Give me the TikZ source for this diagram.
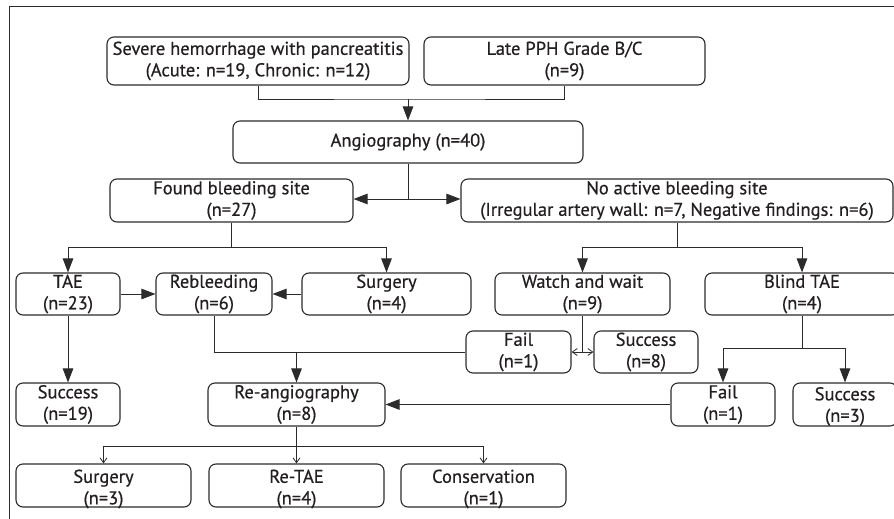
\documentclass[tikz,border=0pt]{standalone}
\usepackage{fontspec}
\setmainfont{PT Sans}[FakeBold=0.6]
\usetikzlibrary{arrows.meta}
\definecolor{ln}{HTML}{2B2B2B}
\definecolor{tx}{HTML}{231F20}
\tikzset{
  box/.style={draw=ln, line width=1.1pt, rounded corners=7pt, align=center, inner sep=0pt,
    font=\fontsize{18.5}{21.5}\selectfont, text=tx},
  txt/.style={align=center, inner sep=0pt, font=\fontsize{18.5}{21.5}\selectfont, text=tx},
  conn/.style={draw=ln, line width=1pt},
  arr/.style={conn, -{Triangle[length=14pt,width=10.5pt]}},
  tarr/.style={conn, line width=0.8pt, -{Straight Barb[length=5pt,width=7pt]}},
  dtarr/.style={conn, line width=0.8pt, {Straight Barb[length=5pt,width=7pt]}-{Straight Barb[length=5pt,width=7pt]}},
  frame/.style={draw=ln, line width=1pt}
}
\begin{document}
\begin{tikzpicture}[x=1pt,y=-1pt]
\useasboundingbox (0,0) rectangle (894,519);
\clip (0,0) rectangle (894,519);
\coordinate (f0) at (9,519);
\coordinate (f1) at (9,7);
\coordinate (f2) at (894,7);
\draw[frame] (f0) -- (f1) -- (f2);

\node[box, minimum width=302pt, minimum height=48pt] (sev) at (258,61) {Severe hemorrhage with pancreatitis\\(Acute: n=19, Chronic: n=12)};
\node[box, minimum width=281pt, minimum height=48pt] (late) at (564.5,61) {Late PPH Grade B/C\\(n=9)};
\node[box, minimum width=350pt, minimum height=42pt] (angio) at (408,142) {Angiography (n=40)};
\node[box, minimum width=243pt, minimum height=43pt] (found) at (231.5,200.5) {Found bleeding site\\(n=27)};
\node[box, minimum width=432pt, minimum height=43pt] (noact) at (677,200.5) {No active bleeding site\\(Irregular artery wall: n=7, Negative findings: n=6)};

\node[box, minimum width=104pt, minimum height=42pt] (tae) at (68,294) {TAE\\(n=23)};
\node[box, minimum width=116pt, minimum height=42pt] (reb) at (214,294) {Rebleeding\\(n=6)};
\node[box, minimum width=169pt, minimum height=42pt] (surg1) at (386.5,294) {Surgery\\(n=4)};
\node[box, minimum width=175pt, minimum height=42pt] (watch) at (582.5,294) {Watch and wait\\(n=9)};
\node[box, minimum width=194pt, minimum height=42pt] (blind) at (802,294) {Blind TAE\\(n=4)};

\node[box, minimum width=105pt, minimum height=42pt] (fail1) at (518.5,352) {Fail\\(n=1)};
\node[box, minimum width=104pt, minimum height=42pt] (succ8) at (646,352) {Success\\(n=8)};

\node[box, minimum width=104pt, minimum height=43pt] (succ19) at (68,404.5) {Success\\(n=19)};
\node[box, minimum width=177pt, minimum height=43pt] (reang) at (296.5,404.5) {Re-angiography\\(n=8)};
\node[box, minimum width=104pt, minimum height=43pt] (fail2) at (723,404.5) {Fail\\(n=1)};
\node[box, minimum width=104pt, minimum height=43pt] (succ3) at (845,404.5) {};
\node[txt] (succ3t) at ([yshift=-2pt]succ3.center) {Success\\(n=3)};

\node[box, minimum width=175pt, minimum height=43pt] (surg2) at (103.5,485.5) {};
\node[txt] (surg2t) at ([yshift=-3.5pt]surg2.center) {Surgery\\(n=3)};
\node[box, minimum width=175pt, minimum height=43pt] (retae) at (296.5,485.5) {};
\node[txt] (retaet) at ([yshift=-3.5pt]retae.center) {Re-TAE\\(n=4)};
\node[box, minimum width=165pt, minimum height=43pt] (cons) at (483.5,485.5) {};
\node[txt] (const) at ([yshift=-3.5pt]cons.center) {Conservation\\(n=1)};

% connectors
\coordinate (m1) at (408,99);
\draw[conn] (sev.south) |- (m1) -| (late.south);
\draw[arr] (m1) -- (angio.north);

\coordinate (m2) at (408,199);
\draw[conn] (angio.south) -- (m2);
\draw[arr] (m2) -- (found.east |- m2);
\draw[arr] (m2) -- (noact.west |- m2);

\coordinate (m3) at (231.5,247);
\draw[conn] (found.south) -- (m3);
\draw[arr] (m3) -| (tae.north);
\draw[arr] (m3) -| (surg1.north);

\coordinate (m4) at (677,247);
\draw[conn] (noact.south) -- (m4);
\draw[arr] (m4) -| (watch.north);
\draw[arr] (m4) -| (blind.north);

\draw[arr] (tae.east) -- (reb.west);
\draw[arr] (surg1.west) -- (reb.east);
\draw[arr] (tae.south) -- (succ19.north);

\draw[conn] (reb.south) |- (fail1.west);
\draw[arr] (reang.north |- fail1.west) -- (reang.north);

\draw[conn] (watch.south) -- (watch.south |- fail1.east);
\draw[dtarr] (fail1.east) -- (succ8.west);

\coordinate (m5) at (802,348);
\draw[conn] (blind.south) -- (m5);
\draw[arr] (m5) -| (fail2.north);
\draw[arr] (m5) -| (succ3.north);

\draw[arr] (fail2.west) -- (reang.east);

\coordinate (m6) at (296.5,446);
\draw[conn] (reang.south) -- (m6);
\draw[tarr] (m6) -| (surg2.north);
\draw[tarr] (m6) -- (retae.north);
\draw[tarr] (m6) -| (cons.north);
\end{tikzpicture}
\end{document}
